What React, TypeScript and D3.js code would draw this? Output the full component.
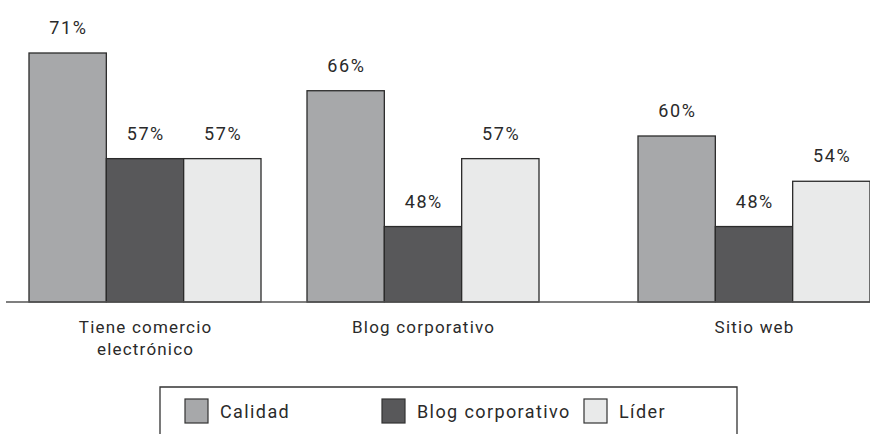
import React from "react";
import * as d3 from "d3";

const categories = ["Tiene comercio electrónico", "Blog corporativo", "Sitio web"];
const categoryLines = [["Tiene comercio", "electrónico"], ["Blog corporativo"], ["Sitio web"]];
const seriesNames = ["Calidad", "Blog corporativo", "Líder"];
const calidad = [71, 66, 60];
const blog = [57, 48, 48];
const lider = [57, 57, 54];
const seriesValues = [calidad, blog, lider];
const colors = ["#a7a8aa", "#58585a", "#e9eaea"];

const W = 870;
const H = 434;
const baseline = 302;
const font = "Roboto, 'DejaVu Sans', sans-serif";

export default function App() {
  const y = d3.scaleLinear().domain([38, 71]).range([baseline, 53]);
  const groupX = d3.scaleOrdinal<string, number>().domain(categories).range([29, 307, 638]);
  const inner = d3.scaleBand<string>().domain(seriesNames).range([0, 232]).padding(0);
  const legendX = d3.scaleOrdinal<string, number>().domain(seriesNames).range([185, 382, 584]);

  return (
    <svg width={W} height={H} style={{ position: "fixed", left: 0, top: 0, background: "#fff" }}>
      <rect x={0} y={0} width={W} height={H} fill="#fff" />
      {categories.map((c, ci) => (
        <g key={c}>
          {seriesNames.map((s, si) => {
            const v = seriesValues[si][ci];
            const x0 = groupX(c) + (inner(s) as number);
            const bw = inner.bandwidth();
            return (
              <g key={s}>
                <rect x={x0} y={y(v)} width={bw} height={baseline - y(v)} fill={colors[si]} stroke="#2b2b2b" strokeWidth={1.3} />
                <text x={x0 + bw / 2 + 0.8} y={y(v) - 19} textAnchor="middle" fontFamily={font} fontSize={18} fill="#2a2a2a" letterSpacing={1.6}>
                  {v}%
                </text>
              </g>
            );
          })}
          {categoryLines[ci].map((ln, li) => (
            <text key={li} x={groupX(c) + 116 + 0.6} y={333 + li * 22} textAnchor="middle" fontFamily={font} fontSize={17} fill="#2a2a2a" letterSpacing={1.2}>
              {ln}
            </text>
          ))}
        </g>
      ))}
      <line x1={6} x2={W} y1={baseline} y2={baseline} stroke="#555" strokeWidth={1.5} />
      <path d={`M160,${H} V387 H737 V${H}`} fill="none" stroke="#333" strokeWidth={1.3} />
      {seriesNames.map((s, si) => (
        <g key={s}>
          <rect x={legendX(s)} y={399} width={23} height={24} fill={colors[si]} stroke="#333" strokeWidth={1.2} />
          <text x={legendX(s) + 35} y={418} fontFamily={font} fontSize={18} fill="#2a2a2a" letterSpacing={1.4}>
            {s}
          </text>
        </g>
      ))}
    </svg>
  );
}
